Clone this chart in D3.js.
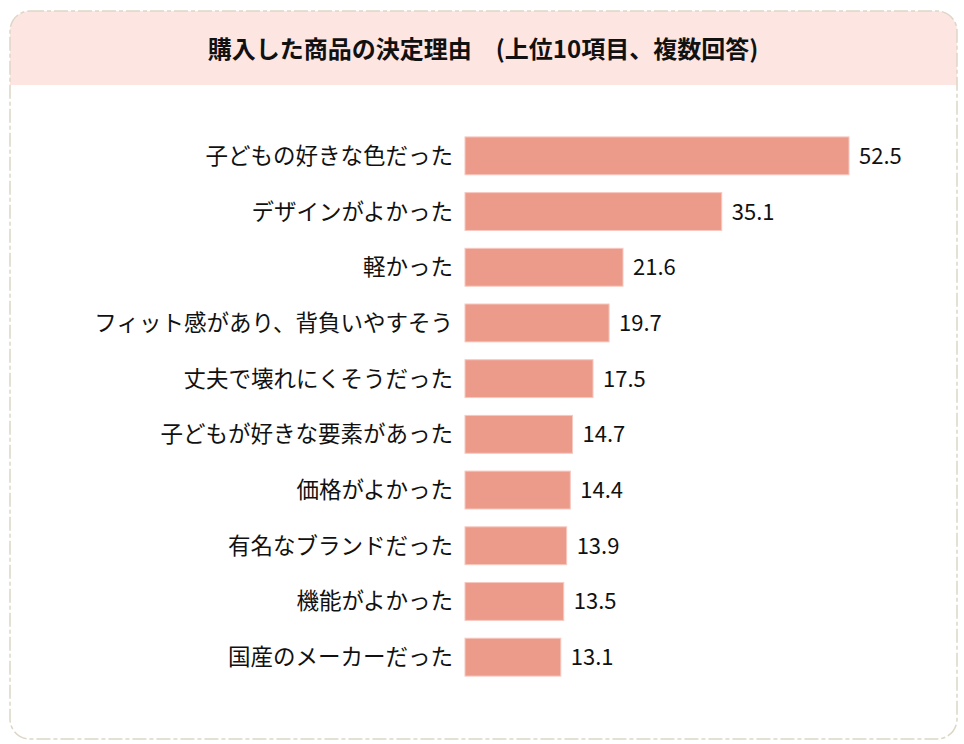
<!DOCTYPE html>
<html>
<head>
<meta charset="utf-8">
<script src="https://cdn.jsdelivr.net/npm/d3@7"></script>
<style>
  body { margin: 0; background: #fff; }
  text { font-family: "Noto Sans CJK JP", "Noto Sans", sans-serif; }
</style>
</head>
<body>
<div id="chart"></div>
<script>
var categories = [
  '子どもの好きな色だった',
  'デザインがよかった',
  '軽かった',
  'フィット感があり、背負いやすそう',
  '丈夫で壊れにくそうだった',
  '子どもが好きな要素があった',
  '価格がよかった',
  '有名なブランドだった',
  '機能がよかった',
  '国産のメーカーだった'
];
var values = [52.5, 35.1, 21.6, 19.7, 17.5, 14.7, 14.4, 13.9, 13.5, 13.1];
var title = '購入した商品の決定理由\u3000(上位10項目、複数回答)';

var chart_width = 964;
var chart_height = 744;

var svg = d3.select('#chart')
  .append('svg')
  .attr('width', chart_width)
  .attr('height', chart_height);

// panel
var px = 10, py = 11, pw = 947, ph = 728, r = 20;
svg.append('clipPath').attr('id', 'panel')
  .append('rect')
  .attr('x', px).attr('y', py).attr('width', pw).attr('height', ph)
  .attr('rx', r).attr('ry', r);

svg.append('rect')
  .attr('x', px).attr('y', py).attr('width', pw).attr('height', ph)
  .attr('rx', r).attr('ry', r)
  .attr('fill', '#fff');

svg.append('rect')
  .attr('clip-path', 'url(#panel)')
  .attr('x', px).attr('y', py).attr('width', pw).attr('height', 74)
  .attr('fill', '#fde6e2');

svg.append('rect')
  .attr('x', px).attr('y', py).attr('width', pw).attr('height', ph)
  .attr('rx', r).attr('ry', r)
  .attr('fill', 'none')
  .attr('stroke', '#ddd6c6')
  .attr('stroke-width', 1.5)
  .attr('stroke-dasharray', '14 3 4 3');

svg.append('text')
  .attr('x', 483)
  .attr('y', 47)
  .attr('text-anchor', 'middle')
  .attr('dominant-baseline', 'central')
  .attr('font-size', 24)
  .attr('font-weight', 'bold')
  .attr('fill', '#111')
  .text(title);

// scales
var x0 = 465;
const xScale = d3.scaleLinear()
  .domain([0, 52.5])
  .range([x0, 849]);

const yScale = d3.scaleBand()
  .domain(categories)
  .range([128, 685])
  .paddingInner(0.32)
  .paddingOuter(0.16);

var rows = categories.map((c, i) => ({ cat: c, num: values[i] }));

svg.selectAll('rect.bar')
  .data(rows)
  .enter()
  .append('rect')
  .attr('class', 'bar')
  .attr('x', xScale(0))
  .attr('y', d => yScale(d.cat))
  .attr('width', d => xScale(d.num) - xScale(0))
  .attr('height', yScale.bandwidth())
  .attr('fill', '#ec9b8b')
  .attr('stroke', '#f6c8bf')
  .attr('stroke-width', 1);

// category labels
svg.selectAll('text.cat')
  .data(rows)
  .enter()
  .append('text')
  .attr('class', 'cat')
  .attr('x', x0 - 12)
  .attr('y', d => yScale(d.cat) + yScale.bandwidth() / 2 - 2)
  .attr('text-anchor', 'end')
  .attr('dominant-baseline', 'central')
  .attr('font-size', 22.5)
  .attr('fill', '#111')
  .text(d => d.cat);

// value labels
svg.selectAll('text.val')
  .data(rows)
  .enter()
  .append('text')
  .attr('class', 'val')
  .attr('x', d => xScale(d.num) + 10)
  .attr('y', d => yScale(d.cat) + yScale.bandwidth() / 2 - 2)
  .attr('dominant-baseline', 'central')
  .attr('font-size', 22)
  .attr('fill', '#111')
  .text(d => d3.format('.1f')(d.num));
</script>
</body>
</html>
